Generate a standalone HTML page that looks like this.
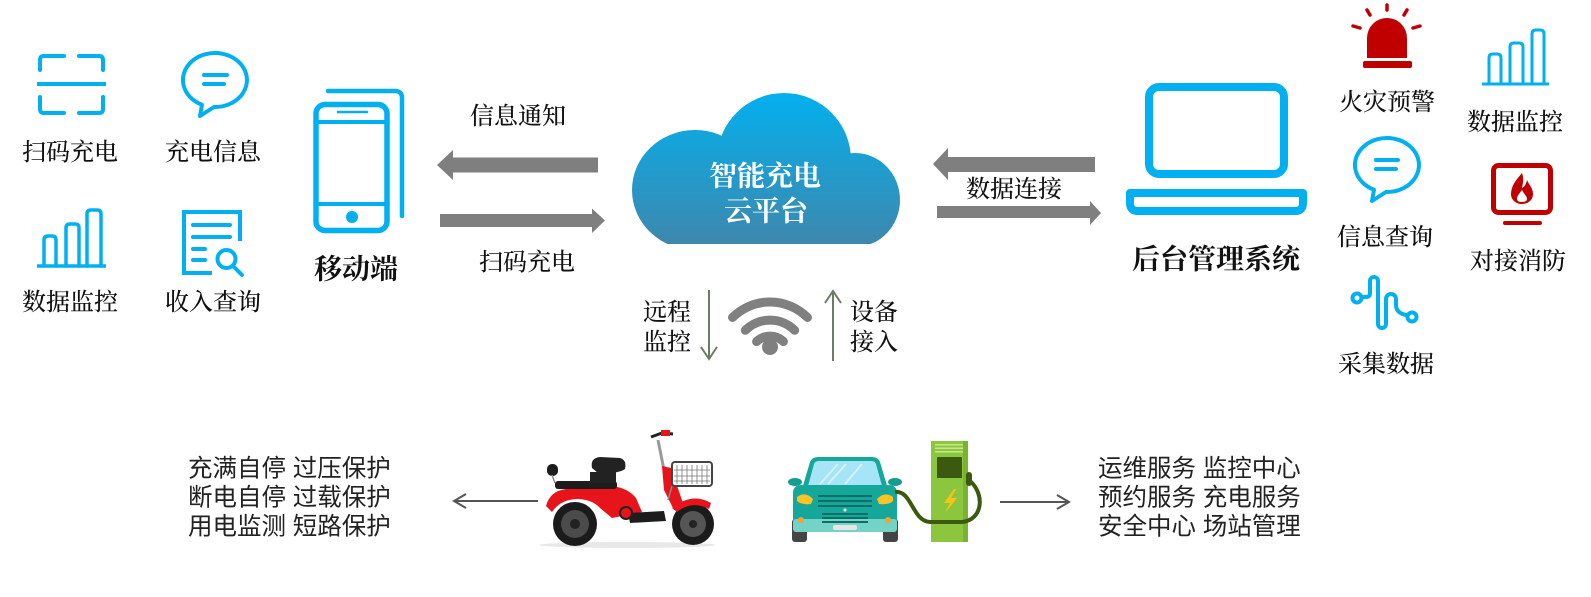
<!DOCTYPE html>
<html><head><meta charset="utf-8">
<style>
html,body{margin:0;padding:0;background:#fff;}
svg{display:block;}
.s{font-family:"Liberation Serif","Noto Serif CJK SC",serif;font-size:24px;font-weight:500;fill:#111;}
.b{font-family:"Liberation Serif","Noto Serif CJK SC",serif;font-size:28px;font-weight:bold;fill:#111;}
.w{font-family:"Liberation Serif","Noto Serif CJK SC",serif;font-size:28px;font-weight:bold;fill:#fff;}
.n{font-family:"Liberation Sans","Noto Sans CJK SC",sans-serif;font-size:24.5px;fill:#222;}
</style></head><body>
<svg width="1591" height="597" viewBox="0 0 1591 597" xmlns="http://www.w3.org/2000/svg">
<defs>
<linearGradient id="cg" x1="0" y1="93" x2="0" y2="244" gradientUnits="userSpaceOnUse">
<stop offset="0" stop-color="#03b0ee"/>
<stop offset="1" stop-color="#3d88ad"/>
</linearGradient>
<clipPath id="cc"><rect x="600" y="80" width="320" height="164"/></clipPath>
</defs>

<!-- ===== Left icons ===== -->
<g fill="none" stroke="#00b0f0" stroke-width="4" stroke-linecap="round" stroke-linejoin="round">
  <path d="M40 70 V60 Q40 56 44 56 H64"/>
  <path d="M79 56 H99 Q103 56 103 60 V70"/>
  <path d="M40 97 V109 Q40 113 44 113 H64"/>
  <path d="M79 113 H99 Q103 113 103 109 V97"/>
  <path d="M37 84 H106" stroke-linecap="butt"/>
  <path d="M202 104.7 L200 116 L214 107 A32 27 0 1 0 202 104.7 Z"/>
  <path d="M204 75 H227 M204 84 H224"/>
  <path d="M44 266 V240 Q44 236 48 236 H52 Q56 236 56 240 V266" stroke-width="3.5"/>
  <path d="M66 266 V228 Q66 224 70 224 H75 Q79 224 79 228 V266" stroke-width="3.5"/>
  <path d="M87 266 V214 Q87 210 91 210 H97 Q101 210 101 214 V266" stroke-width="3.5"/>
  <path d="M37 266 H106" stroke-width="3.5" stroke-linecap="butt"/>
  <path d="M212 273 H184 V212 H240 V241" stroke-linecap="butt" stroke-linejoin="miter"/>
  <path d="M193 225 H230 M193 237 H230 M193 249 H205 M193 260 H205"/>
  <circle cx="226.5" cy="259" r="9"/>
  <path d="M233 266 L242 275"/>
</g>
<text class="s" x="70" y="153" text-anchor="middle" dominant-baseline="central">扫码充电</text>
<text class="s" x="213" y="153" text-anchor="middle" dominant-baseline="central">充电信息</text>
<text class="s" x="70" y="303" text-anchor="middle" dominant-baseline="central">数据监控</text>
<text class="s" x="213" y="303" text-anchor="middle" dominant-baseline="central">收入查询</text>

<!-- ===== Phone ===== -->
<g fill="none" stroke="#00b0f0" stroke-linecap="round">
  <path d="M328 91 H395 Q402 91 402 98 V216" stroke-width="4.5"/>
  <rect x="316" y="104.5" width="71" height="126" rx="9" stroke-width="5.5" fill="#fff"/>
  <path d="M316 122 H387 M316 204 H387" stroke-width="4"/>
  <path d="M338 112 H367" stroke-width="2.5"/>
</g>
<circle cx="352" cy="217" r="6" fill="#00b0f0"/>
<text class="b" x="356" y="270" text-anchor="middle" dominant-baseline="central">移动端</text>

<!-- ===== Left big arrows ===== -->
<polygon points="437,165 453,150 453,157.5 598,157.5 598,172.5 453,172.5 453,180" fill="#7f7f7f"/>
<polygon points="440,214 592,214 592,208.5 605,220.5 592,233 592,227 440,227" fill="#7f7f7f"/>
<text class="s" x="518" y="117" text-anchor="middle" dominant-baseline="central">信息通知</text>
<text class="s" x="527" y="263" text-anchor="middle" dominant-baseline="central">扫码充电</text>

<!-- ===== Cloud ===== -->
<g fill="url(#cg)" clip-path="url(#cc)">
  <ellipse cx="695" cy="190" rx="63" ry="60"/>
  <circle cx="784" cy="160" r="67"/>
  <ellipse cx="855" cy="200" rx="45" ry="47"/>
  <rect x="668" y="175" width="203" height="69"/>
</g>
<text class="w" x="765" y="177" text-anchor="middle" dominant-baseline="central">智能充电</text>
<text class="w" x="766" y="212" text-anchor="middle" dominant-baseline="central">云平台</text>

<!-- ===== Right big arrows ===== -->
<polygon points="933,164 948,148 948,157 1095,157 1095,172 948,172 948,180" fill="#7f7f7f"/>
<polygon points="937,206 1090,206 1090,201 1101,213 1090,225 1090,218 937,218" fill="#7f7f7f"/>
<text class="s" x="1014" y="190" text-anchor="middle" dominant-baseline="central">数据连接</text>

<!-- ===== Wifi & vertical arrows ===== -->
<g fill="none" stroke="#808080" stroke-width="9" stroke-linecap="round">
  <path d="M732.5 317.5 A53 53 0 0 1 807.5 317.5"/>
  <path d="M745.3 330.3 A35 35 0 0 1 794.7 330.3"/>
  <path d="M756.6 341.6 A19 19 0 0 1 783.4 341.6"/>
</g>
<circle cx="770" cy="347" r="8" fill="#808080"/>
<g fill="none" stroke="#6b7c64" stroke-width="2">
  <path d="M709 290 V359"/>
  <path d="M701 347 L709 359 L717 347"/>
  <path d="M833 291 V361"/>
  <path d="M825 303 L833 291 L841 303"/>
</g>
<text class="s" x="667" y="313" text-anchor="middle" dominant-baseline="central">远程</text>
<text class="s" x="667" y="343" text-anchor="middle" dominant-baseline="central">监控</text>
<text class="s" x="874" y="313" text-anchor="middle" dominant-baseline="central">设备</text>
<text class="s" x="874" y="343" text-anchor="middle" dominant-baseline="central">接入</text>

<!-- ===== Laptop ===== -->
<g fill="none" stroke="#00b0f0" stroke-width="8">
  <rect x="1149" y="87" width="135" height="87" rx="10"/>
  <path d="M1130 193 H1303 V203 Q1303 211 1295 211 H1138 Q1130 211 1130 203 Z" stroke-linejoin="round"/>
</g>
<text class="b" x="1216" y="260" text-anchor="middle" dominant-baseline="central">后台管理系统</text>

<!-- ===== Right icons ===== -->
<g transform="translate(0,3)">
<path d="M1367 55 V35 A20 20 0 0 1 1407 35 V55 Z" fill="#c00000"/>
<rect x="1363" y="58" width="49" height="7" rx="2" fill="#c00000"/>
<g stroke="#c00000" stroke-width="3.5" stroke-linecap="round">
  <path d="M1387 2 V7"/>
  <path d="M1367 7 L1370 12"/>
  <path d="M1407 7 L1404 12"/>
  <path d="M1353 23 L1360 25"/>
  <path d="M1420 23 L1413 25"/>
</g>
</g>
<text class="s" x="1387" y="103" text-anchor="middle" dominant-baseline="central">火灾预警</text>

<g fill="none" stroke="#00b0f0" stroke-width="3" stroke-linecap="round">
  <path d="M1489 84 V58 Q1489 54 1493 54 H1497 Q1501 54 1501 58 V84"/>
  <path d="M1510 84 V47 Q1510 43 1514 43 H1519 Q1523 43 1523 47 V84"/>
  <path d="M1532 84 V34 Q1532 30 1536 30 H1540 Q1544 30 1544 34 V84"/>
  <path d="M1482 84 H1549" stroke-linecap="butt"/>
</g>
<text class="s" x="1515" y="123" text-anchor="middle" dominant-baseline="central">数据监控</text>

<g fill="none" stroke="#00b0f0" stroke-width="4" stroke-linecap="round" stroke-linejoin="round">
  <path d="M1374 189.7 L1372 201 L1386 192 A32 27 0 1 0 1374 189.7 Z"/>
  <path d="M1376 160 H1398 M1376 169 H1396"/>
</g>
<text class="s" x="1385" y="238" text-anchor="middle" dominant-baseline="central">信息查询</text>

<rect x="1493.5" y="165.5" width="57" height="47" rx="5" fill="none" stroke="#c00000" stroke-width="5"/>
<path d="M1505 223 H1540" stroke="#c00000" stroke-width="4" stroke-linecap="round"/>
<path d="M1522 173 C1516 180 1511 186 1511 194 C1511 200 1516 204 1522 204 C1528 204 1533 200 1533 194 C1533 188 1529 185 1527 180 C1526 185 1524 187 1522 188 C1523 183 1524 178 1522 173 Z" fill="#c00000"/>
<path d="M1522 190 C1519 194 1517 196 1517 199 C1517 201 1519 202 1522 202 C1525 202 1527 201 1527 199 C1527 196 1524 194 1522 190 Z" fill="#fff"/>
<text class="s" x="1518" y="262" text-anchor="middle" dominant-baseline="central">对接消防</text>

<g fill="none" stroke="#00b0f0" stroke-width="4" stroke-linecap="round" stroke-linejoin="round">
  <circle cx="1357" cy="298" r="4.5"/>
  <path d="M1362 297 H1366 Q1370 297 1370 293 V281 A4 4 0 0 1 1378 281 V324 A4 4 0 0 0 1386 324 V299 A5 5 0 0 1 1396 299 V305 Q1396 313 1406 315"/>
  <circle cx="1412" cy="317" r="4.5"/>
</g>
<text class="s" x="1386" y="365" text-anchor="middle" dominant-baseline="central">采集数据</text>

<!-- ===== Bottom left text ===== -->
<text class="n" x="188" y="469" dominant-baseline="central">充满自停 过压保护</text>
<text class="n" x="188" y="498" dominant-baseline="central">断电自停 过载保护</text>
<text class="n" x="188" y="527" dominant-baseline="central">用电监测 短路保护</text>

<g fill="none" stroke="#555" stroke-width="2">
  <path d="M538 501 H454"/>
  <path d="M466 494 L454 501 L466 508"/>
</g>

<!-- ===== Scooter ===== -->
<g>
  <ellipse cx="627" cy="545" rx="88" ry="3" fill="#e8e8e8"/>
  <circle cx="575" cy="524" r="22" fill="#1b1b1b"/>
  <circle cx="575" cy="524" r="14" fill="#4b4b4b"/>
  <circle cx="575" cy="524" r="5" fill="#222"/>
  <circle cx="693" cy="524" r="21" fill="#1b1b1b"/>
  <circle cx="693" cy="524" r="13" fill="#555"/>
  <circle cx="693" cy="524" r="4" fill="#222"/>
  <path d="M546 506 Q550 491 566 489 L612 486 Q628 488 636 498 L642 512 L612 518 L600 508 Q592 499 576 499 Q560 500 552 512 Z" fill="#e8141b"/>
  <rect x="555" y="481" width="62" height="8" rx="3" fill="#1d1d1d"/>
  <rect x="590" y="472" width="26" height="11" fill="#222"/>
  <path d="M592 468 Q590 458 600 457 L620 458 Q627 460 625 469 Q618 474 598 473 Z" fill="#222"/>
  <rect x="547" y="464" width="11" height="12" rx="5" fill="#1d1d1d"/>
  <path d="M552 475 L555 483" stroke="#888" stroke-width="1.5"/>
  <path d="M628 513 L664 511 L666 521 L630 523 Z" fill="#1d1d1d"/>
  <circle cx="626" cy="513" r="6" fill="#e8141b" stroke="#222" stroke-width="2"/>
  <path d="M658 440 L664 470 L676 505" stroke="#999" stroke-width="3" fill="none"/>
  <path d="M662 466 L671 468 L684 506 L674 510 L664 490 Z" fill="#e8141b"/>
  <path d="M672 508 Q692 492 711 503 L709 509 Q692 500 677 512 Z" fill="#e8141b"/>
  <path d="M651 437 L662 433 L673 434" stroke="#222" stroke-width="3" fill="none"/>
  <rect x="661" y="430" width="9" height="6" fill="#e8141b"/>
  <rect x="672" y="462" width="40" height="24" rx="3" fill="#fff" stroke="#444" stroke-width="2"/>
  <path d="M677 465 V484 M682 465 V484 M687 465 V484 M692 465 V484 M697 465 V484 M702 465 V484 M707 465 V484 M674 470 H710 M674 476 H710 M674 481 H710" stroke="#777" stroke-width="0.8"/>
  <path d="M672 486 L668 500" stroke="#888" stroke-width="1.5"/>
</g>

<!-- ===== Car ===== -->
<g>
  <rect x="792" y="519" width="15" height="23" rx="3" fill="#444"/>
  <rect x="883" y="519" width="15" height="23" rx="3" fill="#444"/>
  <ellipse cx="795" cy="482" rx="7" ry="4" fill="#149e93"/>
  <ellipse cx="895" cy="482" rx="7" ry="4" fill="#149e93"/>
  <path d="M802 489 L810 462 Q812 457 818 457 L872 457 Q878 457 880 462 L888 489 Z" fill="#16a79b"/>
  <path d="M808 486 L814 464 Q815 461 819 461 L871 461 Q875 461 876 464 L882 486 Z" fill="#a6e4f7"/>
  <path d="M820 484 L838 464 M828 484 L846 464 M845 484 L862 464" stroke="#d4f3fc" stroke-width="2"/>
  <path d="M793 493 Q793 485 802 485 L888 485 Q897 485 897 493 L897 522 L793 522 Z" fill="#16a79b"/>
  <rect x="793" y="519" width="104" height="13" rx="3" fill="#74d2c6"/>
  <path d="M797 497 Q805 491 813 499 L811 504 Q801 505 797 501 Z" fill="#f7c325"/>
  <path d="M893 497 Q885 491 877 499 L879 504 Q889 505 893 501 Z" fill="#f7c325"/>
  <path d="M818 496 H872 M818 501 H872 M818 506 H872" stroke="#0d6e66" stroke-width="2"/>
  <path d="M822 514 H868 M822 518 H868 M822 522 H868" stroke="#0d6e66" stroke-width="2"/>
  <circle cx="845" cy="510" r="1.5" fill="#fff"/>
  <circle cx="801" cy="520" r="3" fill="#f7a325"/>
  <circle cx="888" cy="520" r="3" fill="#f7a325"/>
  <rect x="833" y="525" width="24" height="5" rx="2" fill="#e6e6e6"/>
</g>

<!-- ===== Charger ===== -->
<g>
  <rect x="931" y="441" width="37" height="101" fill="#8cc63f"/>
  <rect x="963" y="441" width="5" height="101" fill="#7ab232"/>
  <rect x="935" y="444" width="28" height="1.5" fill="#c7e78d"/>
  <rect x="935" y="447.5" width="28" height="1.5" fill="#c7e78d"/>
  <rect x="935" y="451" width="28" height="1.5" fill="#c7e78d"/>
  <rect x="937" y="457" width="25" height="21" fill="#3b5a10"/>
  <polygon points="954,489 944,503 950,503 945,513 957,498 951,498 956,489" fill="#f5c518"/>
  <path d="M895 492 C912 490 912 521 930 522 L962 522 C983 520 985 494 970 481" fill="none" stroke="#3b5a10" stroke-width="4"/>
  <rect x="966" y="472" width="6" height="14" rx="3" fill="#3b5a10"/>
</g>

<g fill="none" stroke="#555" stroke-width="2">
  <path d="M1000 502 H1069"/>
  <path d="M1057 495 L1069 502 L1057 509"/>
</g>

<!-- ===== Bottom right text ===== -->
<text class="n" x="1098" y="469" dominant-baseline="central">运维服务 监控中心</text>
<text class="n" x="1098" y="498" dominant-baseline="central">预约服务 充电服务</text>
<text class="n" x="1098" y="527" dominant-baseline="central">安全中心 场站管理</text>
</svg>
</body></html>
